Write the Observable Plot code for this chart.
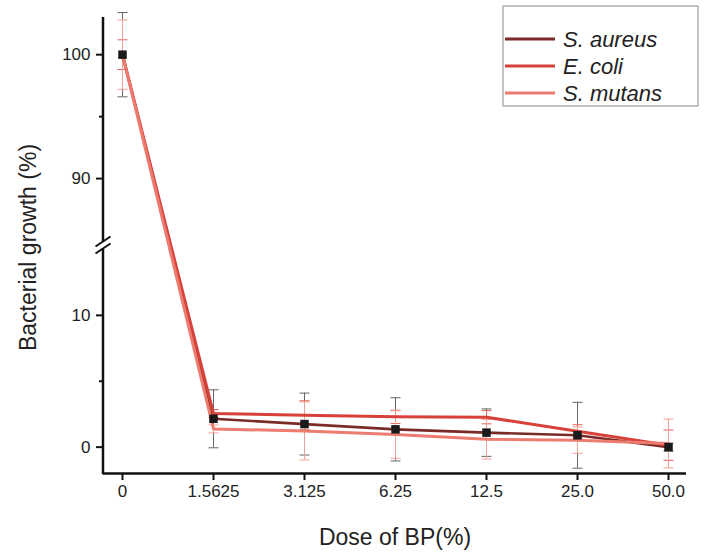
<!DOCTYPE html>
<html>
<head>
<meta charset="utf-8">
<script src="https://cdn.jsdelivr.net/npm/d3@7"></script>
<script src="https://cdn.jsdelivr.net/npm/@observablehq/plot@0.6"></script>
<style>
  html, body { margin: 0; padding: 0; background: #fff; }
  #chart { width: 708px; height: 560px; }
  svg { font-family: "Liberation Sans", Arial, sans-serif; }
</style>
</head>
<body>
<div id="chart"></div>
<script>
// ---- data ----
const doses = ["0", "1.5625", "3.125", "6.25", "12.5", "25.0", "50.0"];
const seriesNames = ["S. aureus", "E. coli", "S. mutans"];
const aureus    = [100, 2.15, 1.75, 1.35, 1.10, 0.90, 0.00];
const aureusErr = [3.4, 2.20, 2.35, 2.40, 1.80, 2.50, 0.30];
const ecoli     = [100, 2.55, 2.42, 2.30, 2.27, 1.20, 0.15];
const ecoliErr  = [1.2, 0.30, 1.10, 0.50, 0.50, 0.50, 1.15];
const mutans    = [100, 1.38, 1.23, 0.96, 0.60, 0.53, 0.28];
const mutansErr = [2.8, 0.30, 2.20, 1.80, 1.50, 1.00, 1.85];
const yTicksMajor = [0, 10, 90, 100];
const yTicksMinor = [5, 95];
// broken axis: lower segment and upper segment
const lowerSeg = [-2, 15.3];
const upperSeg = [84.6, 103];

// ---- styles ----
const lineColors = ["#7a2b27", "#d8403a", "#ec7b70"];
const errColors  = ["#666666", "#e0615a", "#f2a196"];

const valuesBySeries = [aureus, ecoli, mutans];
const errBySeries = [aureusErr, ecoliErr, mutansErr];
const tables = seriesNames.map((name, s) =>
  doses.map((dose, i) => ({series: name, dose, value: valuesBySeries[s][i], err: errBySeries[s][i]}))
);

// horizontal cap symbol for error bars
const capSymbol = {
  draw(context, size) {
    const r = Math.sqrt(size / Math.PI);
    context.moveTo(-r, 0);
    context.lineTo(r, 0);
  }
};

function axisLine(index, scales, values, dims) {
  const g = d3.create("svg:g");
  const x0 = dims.marginLeft;
  const yTop = dims.marginTop;
  const yBot = dims.height - dims.marginBottom;
  const yb = scales.y(lowerSeg[1]);
  const gap = 3.5;
  g.append("line").attr("x1", x0).attr("x2", x0).attr("y1", yTop).attr("y2", yb - gap)
    .attr("stroke", "#111").attr("stroke-width", 2.5);
  g.append("line").attr("x1", x0).attr("x2", x0).attr("y1", yb + gap).attr("y2", yBot + 1.2)
    .attr("stroke", "#111").attr("stroke-width", 2.5);
  for (const off of [-gap, gap]) {
    g.append("line")
      .attr("x1", x0 - 7.5).attr("y1", yb + off + 5)
      .attr("x2", x0 + 7.5).attr("y2", yb + off - 5)
      .attr("stroke", "#111").attr("stroke-width", 2);
  }
  return g.node();
}

function legend(index, scales, values, dims) {
  const g = d3.create("svg:g");
  const bx = 503, by = 6, bw = 195, bh = 100;
  g.append("rect").attr("x", bx).attr("y", by).attr("width", bw).attr("height", bh)
    .attr("fill", "#fff").attr("stroke", "#8a8a8a").attr("stroke-width", 1);
  seriesNames.forEach((name, i) => {
    const yy = by + 33 + i * 27;
    g.append("line").attr("x1", bx + 2).attr("x2", bx + 52).attr("y1", yy).attr("y2", yy)
      .attr("stroke", lineColors[i]).attr("stroke-width", 3);
    g.append("text").attr("x", bx + 60).attr("y", yy).attr("dy", "0.36em")
      .attr("text-anchor", "start")
      .attr("font-size", 22).attr("font-style", "italic").attr("fill", "#222")
      .text(name);
  });
  return g.node();
}

const marks = [];
// error bars
tables.forEach((t, s) => {
  marks.push(Plot.ruleX(t, {x: "dose", y1: d => d.value - d.err, y2: d => d.value + d.err, stroke: errColors[s], strokeWidth: 1}));
  marks.push(Plot.dot(t, {x: "dose", y: d => d.value + d.err, symbol: capSymbol, r: 5, stroke: errColors[s], fill: "none", strokeWidth: 1}));
  marks.push(Plot.dot(t, {x: "dose", y: d => d.value - d.err, symbol: capSymbol, r: 5, stroke: errColors[s], fill: "none", strokeWidth: 1}));
});
// lines
tables.forEach((t, s) => {
  marks.push(Plot.line(t, {x: "dose", y: "value", stroke: lineColors[s], strokeWidth: s === 0 ? 2.6 : 3}));
});
// markers
marks.push(Plot.dot(tables[0], {x: "dose", y: "value", symbol: "square", r: 4.8, fill: "#1a1a1a", stroke: "none"}));

// axes
marks.push(Plot.ruleY([lowerSeg[0]], {stroke: "#111", strokeWidth: 2.5}));
marks.push(axisLine);
marks.push(Plot.axisX({tickSize: 7, tickPadding: 4, strokeWidth: 2, stroke: "#111", fill: "#222", label: null}));
marks.push(Plot.axisY({ticks: yTicksMajor, tickSize: 7, tickPadding: 6, strokeWidth: 2, stroke: "#111", fill: "#222", label: null}));
marks.push(Plot.axisY({ticks: yTicksMinor, tickSize: 4, tickFormat: () => "", strokeWidth: 2, stroke: "#111", label: null}));
// axis titles
marks.push(Plot.text(["Bacterial growth (%)"], {frameAnchor: "left", text: d => d, rotate: -90, dx: -75, dy: 2, textAnchor: "middle", lineAnchor: "middle", fontSize: 23, fill: "#222"}));
marks.push(Plot.text(["Dose of BP(%)"], {frameAnchor: "bottom", text: d => d, dy: 64, textAnchor: "middle", lineAnchor: "middle", fontSize: 23, fill: "#222"}));
marks.push(legend);

const plot = Plot.plot({
  width: 708,
  height: 560,
  marginLeft: 103,
  marginRight: 22,
  marginTop: 17,
  marginBottom: 87,
  style: {fontFamily: "Liberation Sans, Arial, sans-serif", fontSize: "17px", background: "#fff"},
  x: {type: "point", domain: doses, padding: 0.2, label: null},
  y: {type: "linear", domain: [lowerSeg[0], lowerSeg[1], upperSeg[0], upperSeg[1]], range: [473, 245, 245, 17], label: null},
  marks
});
document.getElementById("chart").appendChild(plot);
</script>
</body>
</html>
